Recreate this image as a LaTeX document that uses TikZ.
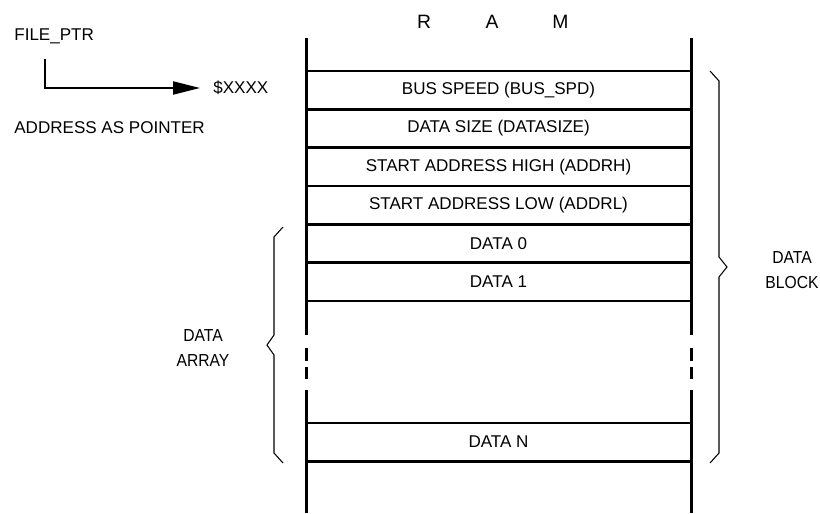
\documentclass[tikz,border=0pt]{standalone}
\usepackage{fontspec}
\setmainfont{Liberation Sans}
\newfontfamily\narrowsans[FakeStretch=0.9]{Liberation Sans}
\usetikzlibrary{arrows.meta, positioning}
\tikzset{
    ramline/.style={line width=1.7pt},
    txt/.style={inner sep=0pt, font=\fontsize{9.7}{14.2}\selectfont},
    sidetxt/.style={txt, align=center, font=\narrowsans\fontsize{9.9}{14.2}\selectfont},
    bracket/.style={line width=0.6pt, line join=miter},
    ptrarrow/.style={line width=1.1pt, -{Triangle[length=5.4mm, width=2.6mm]}},
}
\begin{document}
\begin{tikzpicture}[x=0.02cm, y=-0.02cm]
\useasboundingbox (0,0) rectangle (820,513);

% Titulo R A M
\foreach \x/\l in {424/R, 492/A, 560.5/M} {
    \node[txt, font=\fontsize{11}{13}\selectfont] (ram\l) at (\x,22) {\l};
}

% Bordes de la memoria (con corte punteado)
\foreach \x in {306, 691} {
    \draw[ramline] (\x,38) -- (\x,335);
    \draw[ramline] (\x,348) -- (\x,361);
    \draw[ramline] (\x,367) -- (\x,379);
    \draw[ramline] (\x,390) -- (\x,513);
}

% Separadores de filas
\foreach \y in {71, 109.3, 147.7, 186, 224.3, 262.7, 301, 423, 461.5} {
    \draw[ramline] (306,\y) -- (691,\y);
}

% Contenido de las filas
\node[txt] (busspd) at (498.5,90) {BUS SPEED (BUS\_SPD)};
\node[txt] (datasize) at (498.5,128.5) {DATA SIZE (DATASIZE)};
\node[txt] (addrh) at (498.5,167) {START ADDRESS HIGH (ADDRH)};
\node[txt] (addrl) at (498.5,205) {START ADDRESS LOW (ADDRL)};
\node[txt] (data0) at (498.5,243.5) {DATA 0};
\node[txt] (data1) at (498.5,282) {DATA 1};
\node[txt] (datan) at (498.5,442) {DATA N};

% Puntero
\node[txt, anchor=west] (fileptr) at (14,36) {FILE\_PTR};
\node[txt, anchor=west] (xxxx) at (213,88) {\$XXXX};
\node[txt, anchor=west] (addrptr) at (14,128) {ADDRESS AS POINTER};
\coordinate (ptr) at (45,59);
\draw[ptrarrow] (ptr) |- ([xshift=-2.6mm]xxxx.west);

% Llaves
\draw[bracket] (283,227) -- (274,237) -- (274,335) -- (267,345) -- (274,355) -- (274,453) -- (283,463);
\draw[bracket] (710,71) -- (719,81) -- (719,257) -- (727,267) -- (719,277) -- (719,453) -- (710,463);
\node[sidetxt] (darray) at (203,348) {DATA\\ARRAY};
\node[sidetxt] (dblock) at (792,270) {DATA\\BLOCK};
\end{tikzpicture}
\end{document}
